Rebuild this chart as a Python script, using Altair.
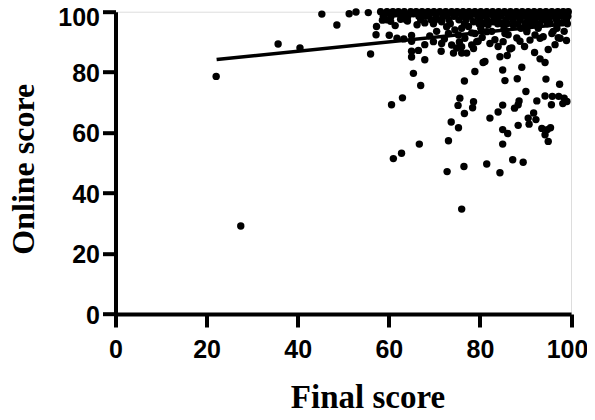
import altair as alt
import pandas as pd

# Sparse / scattered points (Final score, Online score)
scatter_x = [22.1, 27.5, 35.7, 40.5, 45.3, 48.6, 51.3, 52.8, 55.5, 56.0, 57.3, 57.2,
             60.1, 61.8, 63.3, 65.0, 61.4, 66.2, 67.9, 70.1, 71.6, 72.7, 74.5,
             65.0, 65.0, 66.5, 65.0, 67.9, 67.9, 69.8, 71.6, 73.1, 75.3, 76.7, 73.8, 76.0, 78.2,
             65.4, 67.0, 63.0, 60.6, 66.7, 62.8, 61.0,
             71.5, 73.1, 74.2, 76.0, 74.9, 76.6, 78.9, 80.7, 75.6, 75.2, 76.6, 78.6, 78.4,
             73.7, 75.3, 82.2, 84.0, 85.0, 84.4, 85.0, 85.5, 86.6, 88.2, 89.2, 90.1,
             87.6, 88.4, 88.6, 85.0, 86.1, 85.0, 88.4, 90.6, 91.8, 92.3, 90.8,
             93.6, 94.8, 95.5, 94.3, 95.0, 92.5, 94.5, 97.5, 94.3, 95.9, 97.3, 98.5,
             99.1, 98.2, 95.7, 93.2, 94.3, 96.5, 97.6, 72.8, 76.5, 81.5, 84.4, 87.2, 89.5, 76.0]
scatter_y = [78.6, 29.1, 89.3, 88.0, 99.2, 95.6, 99.3, 99.9, 99.7, 86.0, 95.1, 92.4,
             92.2, 91.2, 91.0, 92.1, 95.4, 95.7, 96.3, 97.2, 96.7, 95.0, 94.0,
             90.2, 86.9, 87.2, 85.0, 89.1, 84.1, 90.1, 89.5, 92.8, 92.3, 91.2, 89.0, 88.4, 89.0,
             79.6, 75.6, 71.5, 69.2, 56.2, 53.2, 51.4,
             86.9, 57.3, 86.3, 86.3, 88.0, 77.1, 80.2, 83.2, 71.4, 69.0, 66.3, 70.2, 68.2,
             63.5, 61.6, 64.8, 66.8, 69.1, 85.1, 80.7, 77.2, 87.7, 77.8, 81.6, 73.6,
             68.1, 69.2, 70.5, 61.0, 59.7, 56.2, 62.4, 64.8, 66.5, 64.3, 62.8,
             61.4, 61.0, 61.6, 59.3, 57.1, 70.5, 77.7, 76.0, 72.1, 72.0, 72.0, 71.4,
             70.3, 69.6, 69.2, 84.4, 83.2, 89.1, 91.2, 47.1, 48.8, 49.6, 46.7, 51.0, 50.2, 34.7]

# Points in the dense upper band, below the ceiling
upper_x = [77.5, 78.2, 79.6, 77.1, 81.8, 84.0, 82.6, 83.3, 86.2, 88.1, 88.8, 87.0, 81.1,
           96.1, 98.0, 98.7, 90.3, 91.4, 93.6, 78.6, 80.7, 82.9, 84.8, 87.3, 89.9, 92.5,
           95.4, 78.9, 81.5, 85.5, 90.3, 92.1, 93.9, 95.8, 97.2, 79.3, 82.2, 85.1, 91.0,
           93.2, 78.6, 86.6, 58.6, 60.4, 62.6, 64.1,
           70.5, 72.2, 80.5, 84.0, 89.8, 92.0, 95.0, 98.5, 99.0, 86.0, 75.5, 69.0]
upper_y = [95.1, 93.0, 90.2, 86.3, 95.7, 96.5, 93.5, 90.7, 92.4, 91.3, 90.2, 88.0, 83.5,
           93.5, 96.3, 99.0, 94.0, 95.7, 97.4, 96.7, 96.1, 96.7, 96.1, 95.6, 96.1, 95.6,
           96.1, 92.8, 93.4, 92.8, 93.4, 92.3, 91.7, 92.8, 91.4, 90.1, 89.5, 90.1, 90.6,
           91.2, 87.8, 87.8, 97.2, 96.8, 97.5, 96.9,
           93.5, 91.0, 91.5, 88.5, 88.5, 86.5, 87.5, 93.5, 90.5, 85.5, 90.0, 92.0]

# Ceiling rows (scores at / near 100)
row100_x = [58.2, 59.6, 60.9, 62.1, 63.4, 64.8, 66.0, 67.3, 68.6, 69.9, 71.2, 72.5, 73.8,
            75.0, 76.3, 77.6, 78.9, 80.2, 81.5, 82.8, 84.1, 85.4, 86.7, 88.0, 89.3, 90.6,
            91.9, 93.2, 94.5, 95.8, 97.1, 98.3, 99.4]
row993_x = [59.2, 61.5, 63.0, 65.4, 67.8, 69.0, 71.8, 73.0, 74.8, 76.8, 78.3, 80.7, 82.2,
            83.7, 85.9, 87.3, 88.5, 90.1, 92.4, 93.8, 95.2, 97.6, 98.8]
row985_x = [58.8, 60.5, 62.7, 64.2, 66.6, 68.1, 70.4, 72.0, 74.3, 76.1, 77.9, 79.5, 81.2,
            83.0, 84.6, 86.3, 87.9, 89.7, 91.2, 92.9, 94.6, 96.4, 98.0, 99.3]
row973_x = [59.5, 63.8, 67.0, 69.3, 71.5, 73.2, 75.4, 77.0, 80.0, 81.6, 83.5, 85.7, 87.2,
            88.8, 90.6, 92.0, 94.0, 95.2, 96.8, 99.0]
row960_x = [69.8, 73.5, 76.6, 79.8, 83.9, 86.0, 88.3, 91.0, 93.1, 94.8, 97.0, 99.2]
row945_x = [76.0, 80.2, 85.3, 89.0, 92.8, 96.9]
row_levels = [100.0, 99.3, 98.5, 97.3, 96.0, 94.5]

# Regression line end points
fit_x = [22.2, 99.1]
fit_y = [84.2, 96.0]

x_ticks = [0, 20, 40, 60, 80, 100]
y_ticks = [0, 20, 40, 60, 80, 100]

rows = [row100_x, row993_x, row985_x, row973_x, row960_x, row945_x]
row_x_all = [v for r in rows for v in r]
row_y_all = [lvl for r, lvl in zip(rows, row_levels) for _ in r]

pts = pd.DataFrame({
    "final": scatter_x + upper_x + row_x_all,
    "online": scatter_y + upper_y + row_y_all,
})
fit = pd.DataFrame({"final": fit_x, "online": fit_y})

x_axis = alt.Axis(
    values=x_ticks, grid=False, domainColor="black", domainWidth=4,
    tickColor="black", tickWidth=4, tickSize=13,
    labelFont="Liberation Sans", labelFontWeight="bold", labelFontSize=25,
    labelColor="black", labelPadding=10, labelFlush=False,
    labelOffset={"condition": {"test": "datum.value == 100", "value": -4}, "value": 0},
    title="Final score", titleFont="Liberation Serif", titleFontWeight="bold",
    titleFontSize=33, titleColor="black", titleX=252, titleY=93,
    titleAlign="center", titleBaseline="alphabetic",
)
y_axis = alt.Axis(
    values=y_ticks, grid=False, domainColor="black", domainWidth=4,
    tickColor="black", tickWidth=4, tickSize=13,
    labelFont="Liberation Sans", labelFontWeight="bold", labelFontSize=25,
    labelColor="black", labelPadding=3, labelFlush=False,
    labelOffset={"condition": {"test": "datum.value == 100", "value": 6}, "value": 1},
    title="Online score", titleFont="Liberation Serif", titleFontWeight="bold",
    titleFontSize=32, titleColor="black", titleX=-82, titleY=157,
    titleAngle=270, titleAlign="center", titleBaseline="alphabetic",
)

xs = alt.Scale(domain=[0, 100], nice=False)
ys = alt.Scale(domain=[0, 100], nice=False)

points = alt.Chart(pts).mark_circle(color="black", opacity=1, size=55).encode(
    x=alt.X("final:Q", scale=xs, axis=x_axis),
    y=alt.Y("online:Q", scale=ys, axis=y_axis),
)
line = alt.Chart(fit).mark_line(color="black", strokeWidth=3.5).encode(
    x=alt.X("final:Q", scale=xs),
    y=alt.Y("online:Q", scale=ys),
)

chart = (points + line).properties(
    width=455.5, height=302.3,
    autosize=alt.AutoSizeParams(type="none"),
    padding={"left": 107.5, "top": 3.7, "right": 16, "bottom": 98},
).configure_view(stroke=None).configure(background="white")

chart.save("out.html", embed_options={"renderer": "svg", "actions": False})
